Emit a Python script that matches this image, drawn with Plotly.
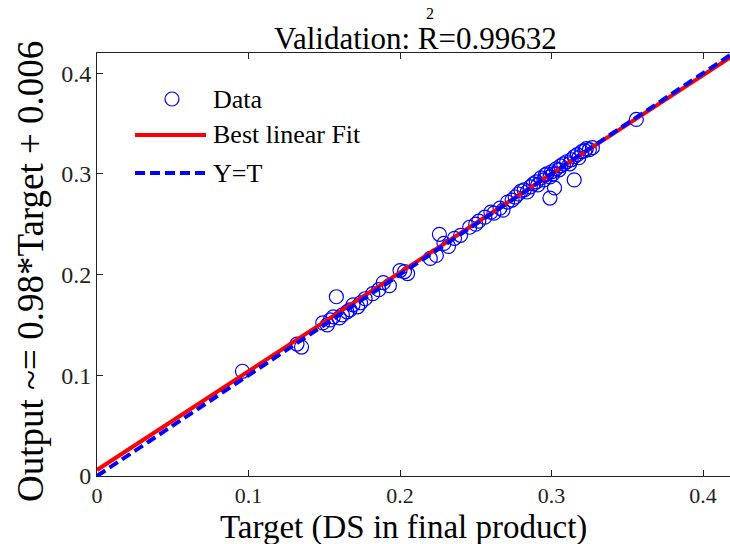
import plotly.graph_objects as go

# Validation set: network targets vs. outputs
targets = [0.096, 0.132, 0.135, 0.149, 0.152, 0.154, 0.156, 0.158, 0.160, 0.162,
           0.165, 0.167, 0.169, 0.172, 0.174, 0.177, 0.182, 0.186, 0.189, 0.193,
           0.200, 0.203, 0.205, 0.220, 0.224, 0.226, 0.229, 0.232, 0.236, 0.240,
           0.246, 0.250, 0.252, 0.256, 0.260, 0.262, 0.266, 0.268, 0.271, 0.274,
           0.276, 0.278, 0.280, 0.282, 0.284, 0.286, 0.288, 0.290, 0.291, 0.293,
           0.295, 0.296, 0.297, 0.299, 0.299, 0.300, 0.301, 0.302, 0.303, 0.305,
           0.306, 0.308, 0.310, 0.312, 0.313, 0.315, 0.315, 0.317, 0.318, 0.320,
           0.322, 0.323, 0.325, 0.327, 0.356]
outputs = [0.104, 0.131, 0.128, 0.152, 0.150, 0.155, 0.158, 0.178, 0.157, 0.160,
           0.163, 0.165, 0.170, 0.168, 0.172, 0.176, 0.181, 0.185, 0.192, 0.189,
           0.204, 0.203, 0.201, 0.216, 0.219, 0.240, 0.231, 0.228, 0.236, 0.239,
           0.247, 0.250, 0.253, 0.257, 0.262, 0.261, 0.266, 0.264, 0.272, 0.274,
           0.277, 0.280, 0.283, 0.284, 0.282, 0.287, 0.290, 0.292, 0.289, 0.296,
           0.294, 0.299, 0.300, 0.276, 0.297, 0.302, 0.300, 0.286, 0.305, 0.304,
           0.308, 0.310, 0.312, 0.310, 0.314, 0.294, 0.317, 0.319, 0.316, 0.322,
           0.323, 0.325, 0.324, 0.326, 0.354]

# Linear fit coefficients stated in the axis label
fit_slope = 0.98
fit_intercept = 0.006
r_squared = "0.99632"

line_x = [0.0, 0.42]
fit_y = [fit_slope * v + fit_intercept for v in line_x]
ident_y = list(line_x)

tick_vals = [0, 0.1, 0.2, 0.3, 0.4]
tick_text = ["0", "0.1", "0.2", "0.3", "0.4"]

FONT = "Liberation Serif, Times New Roman, serif"
BLUE = "#0000ff"
RED = "#ff0000"
AXIS = "#222222"

W, H = 730, 544
ML, MR, MT, MB = 97, 0, 53, 68
PW, PH = W - ML - MR, H - MT - MB

fig = go.Figure()
fig.add_trace(go.Scatter(
    x=targets, y=outputs, mode="markers", name="Data",
    marker=dict(symbol="circle-open", size=14, color=BLUE, line=dict(width=1.2, color=BLUE)),
))
fig.add_trace(go.Scatter(
    x=line_x, y=fit_y, mode="lines", name="Best linear Fit",
    line=dict(color=RED, width=4),
))
fig.add_trace(go.Scatter(
    x=line_x, y=ident_y, mode="lines", name="Y=T",
    line=dict(color=BLUE, width=4, dash="10px,5px"),
))


def px(x):
    return (x - ML) / PW


def py(y):
    return (MT + PH - y) / PH


# Legend entries drawn as paper-space shapes so the line samples are wide
shapes = [
    dict(type="circle", xref="paper", yref="paper",
         x0=px(165), x1=px(179), y0=py(106), y1=py(92),
         line=dict(color=BLUE, width=1.2)),
    dict(type="line", xref="paper", yref="paper",
         x0=px(135), x1=px(206), y0=py(135), y1=py(135),
         line=dict(color=RED, width=4)),
    dict(type="line", xref="paper", yref="paper",
         x0=px(135), x1=px(206), y0=py(173), y1=py(173),
         line=dict(color=BLUE, width=4, dash="10px,5px")),
]
annotations = []
for label, yy in [("Data", 99), ("Best linear Fit", 135), ("Y=T", 173)]:
    annotations.append(dict(
        text=label, xref="paper", yref="paper", x=px(211), y=py(yy),
        xanchor="left", yanchor="middle", showarrow=False,
        font=dict(family=FONT, size=26, color="black"),
    ))

# Title with the exponent set above the R
annotations.append(dict(
    text="Validation: R=" + r_squared, xref="paper", yref="paper",
    x=px(415), y=py(38), xanchor="center", yanchor="middle", showarrow=False,
    font=dict(family=FONT, size=31, color="black"),
))
annotations.append(dict(
    text="2", xref="paper", yref="paper",
    x=px(430), y=py(13), xanchor="center", yanchor="middle", showarrow=False,
    font=dict(family=FONT, size=16, color="black"),
))

# Axis labels
annotations.append(dict(
    text="Output ~= 0.98*Target + 0.006", xref="paper", yref="paper",
    x=px(30), y=py(272), xanchor="center", yanchor="middle", showarrow=False,
    textangle=-90, font=dict(family=FONT, size=37, color="black"),
))
annotations.append(dict(
    text="Target (DS in final product)", xref="paper", yref="paper",
    x=px(403), y=py(527), xanchor="center", yanchor="middle", showarrow=False,
    font=dict(family=FONT, size=33, color="black"),
))

fig.update_layout(
    width=W, height=H,
    margin=dict(l=ML, r=MR, t=MT, b=MB),
    paper_bgcolor="white", plot_bgcolor="white",
    showlegend=False,
    shapes=shapes, annotations=annotations,
    font=dict(family=FONT, color="black"),
)
fig.update_xaxes(
    range=[0, (W - ML) / 1515], tickvals=tick_vals, ticktext=tick_text,
    ticks="inside", ticklen=6, tickcolor=AXIS, tickwidth=1,
    showline=True, linecolor=AXIS, linewidth=1, mirror="ticks",
    showgrid=False, zeroline=False,
    tickfont=dict(family=FONT, size=22, color=AXIS),
)
fig.update_yaxes(
    range=[0, 0.42], tickvals=tick_vals, ticktext=tick_text,
    ticks="inside", ticklen=6, tickcolor=AXIS, tickwidth=1,
    showline=True, linecolor=AXIS, linewidth=1,
    showgrid=False, zeroline=False,
    tickfont=dict(family=FONT, size=24, color=AXIS),
)

fig.write_html("out.html")
